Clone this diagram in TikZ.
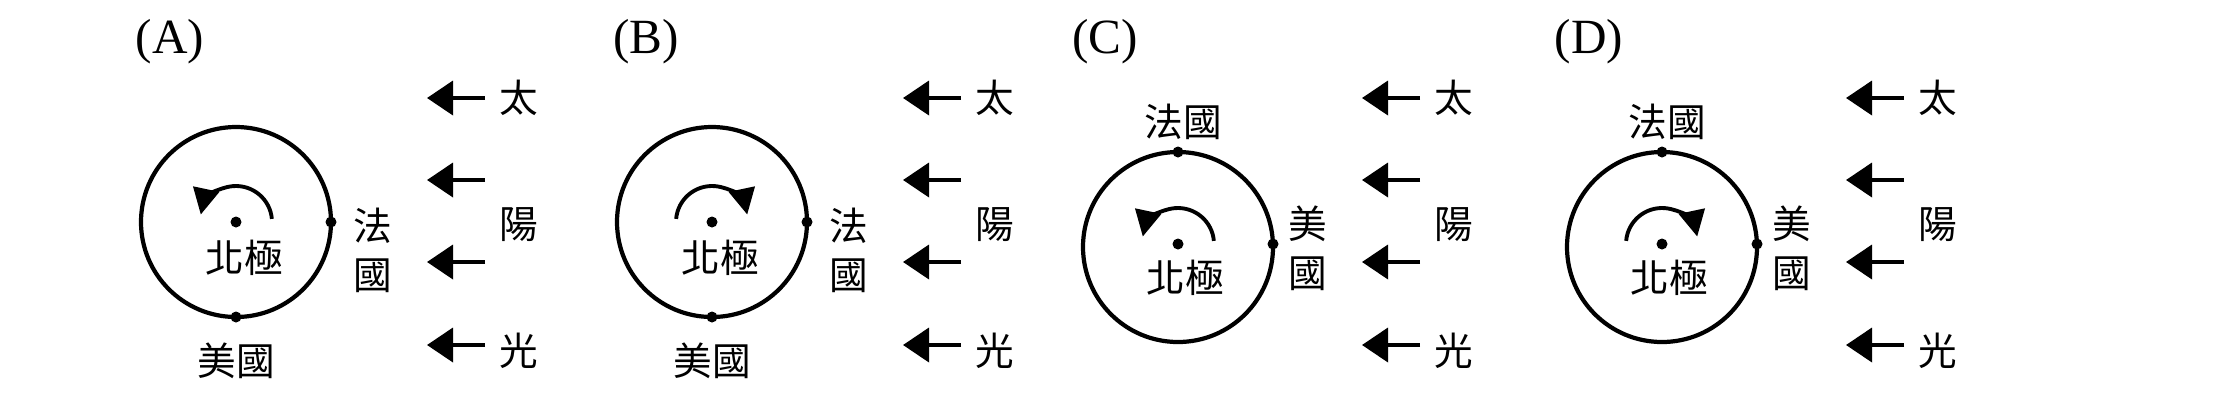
\documentclass[tikz,border=0pt]{standalone}
\usepackage{fontspec}
\setmainfont{Liberation Serif}
\newfontfamily\cjk{Noto Sans CJK TC}
\usetikzlibrary{arrows.meta}

\tikzset{
  zh/.style={font=\cjk\fontsize{11}{13}\selectfont, inner sep=0pt, align=center},
  tag/.style={font=\fontsize{14}{16}\selectfont, inner sep=0pt},
  earth/.style={line width=1.2pt},
  spot/.style={fill=black},
  spin/.style={line width=1.1pt, -{Triangle[length=2.6mm,width=2.6mm]}},
  ray/.style={line width=1.1pt, -{Triangle[length=2.6mm,width=3.4mm]}}
}

\begin{document}
\begin{tikzpicture}
\useasboundingbox (0,0) rectangle (22.31,4);

% sunlight, same in every panel
\foreach \dx/\p in {0/A, 4.76/B, 9.35/C, 14.19/D}{
  \begin{scope}[xshift=\dx cm]
    \node[tag] (tag-\p) at (1.70,3.58) {(\p)};
    \foreach \y [count=\k] in {3.02, 2.20, 1.38, 0.55}{
      \coordinate (tail-\p\k) at (4.85,\y);
      \coordinate (tip-\p\k) at (4.27,\y);
      \draw[ray] (tail-\p\k) -- (tip-\p\k);
    }
    \node[zh] (tai-\p) at (5.19,3.02) {太};
    \node[zh] (yang-\p) at (5.19,1.75) {陽};
    \node[zh] (guang-\p) at (5.19,0.49) {光};
  \end{scope}
}

% (A) and (B)
\foreach \dx/\p/\a/\b in {0/A/5/168, 4.76/B/175/12}{
  \begin{scope}[xshift=\dx cm]
    \draw[earth] (2.36,1.78) circle (0.95);
    \coordinate (pole-\p) at (2.36,1.78);
    \fill[spot] (pole-\p) circle (0.055);
    \draw[spin] ([shift={(\a:0.36)}]pole-\p) arc (\a:\b:0.36);
    \node[zh] (np-\p) at (2.44,1.42) {北極};
    \coordinate (fr-\p) at (3.31,1.78);
    \fill[spot] (fr-\p) circle (0.055);
    \node[zh] (frt-\p) at (3.73,1.50) {法\\[1pt]國};
    \coordinate (us-\p) at (2.36,0.83);
    \fill[spot] (us-\p) circle (0.055);
    \node[zh] (ust-\p) at (2.36,0.39) {美國};
  \end{scope}
}

% (C) and (D)
\foreach \dx/\p/\a/\b in {9.35/C/5/168, 14.19/D/175/12}{
  \begin{scope}[xshift=\dx cm]
    \draw[earth] (2.43,1.53) circle (0.95);
    \coordinate (pole-\p) at (2.43,1.56);
    \fill[spot] (pole-\p) circle (0.055);
    \draw[spin] ([shift={(\a:0.36)}]pole-\p) arc (\a:\b:0.36);
    \node[zh] (np-\p) at (2.50,1.22) {北極};
    \coordinate (fr-\p) at (2.43,2.48);
    \fill[spot] (fr-\p) circle (0.055);
    \node[zh] (frt-\p) at (2.48,2.78) {法國};
    \coordinate (us-\p) at (3.38,1.56);
    \fill[spot] (us-\p) circle (0.055);
    \node[zh] (ust-\p) at (3.73,1.52) {美\\[1pt]國};
  \end{scope}
}
\end{tikzpicture}
\end{document}
